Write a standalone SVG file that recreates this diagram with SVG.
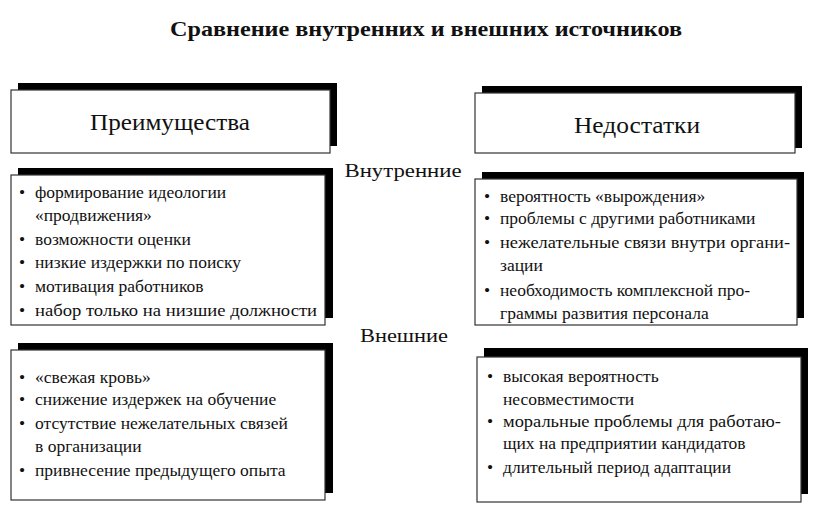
<svg xmlns="http://www.w3.org/2000/svg" width="827" height="528" viewBox="0 0 827 528" font-family="'Liberation Serif', serif">
<style>
text{font-family:'Liberation Serif', serif;fill:#111}
.sh{fill:#000}
.bx{fill:#fff;stroke:#333;stroke-width:1.2}
.h{font-size:23px;text-anchor:middle}
.t{font-size:17.5px}
.lb{font-size:19px}
</style>
<rect width="827" height="528" fill="#fff"/>
<text x="426" y="36" text-anchor="middle" font-weight="bold" font-size="21" textLength="512" lengthAdjust="spacingAndGlyphs">Сравнение внутренних и внешних источников</text>
<g id="adv-head"><rect class="sh" x="18" y="83" width="319" height="63"/><rect class="bx" x="11" y="90" width="319" height="63"/><text class="h" x="170" y="130" textLength="160" lengthAdjust="spacingAndGlyphs">Преимущества</text></g>
<g id="dis-head"><rect class="sh" x="482" y="86" width="320" height="62"/><rect class="bx" x="475" y="93" width="320" height="60"/><text class="h" x="637" y="133" textLength="126" lengthAdjust="spacingAndGlyphs">Недостатки</text></g>
<g id="adv-int"><rect class="sh" x="18" y="168" width="315" height="150"/><rect class="bx" x="11" y="175" width="314" height="150"/>
<text class="t" x="19" y="198">•</text><text class="t" x="35" y="198">формирование идеологии</text><text class="t" x="35" y="221">«продвижения»</text><text class="t" x="19" y="245">•</text><text class="t" x="35" y="245">возможности оценки</text><text class="t" x="19" y="268">•</text><text class="t" x="35" y="268">низкие издержки по поиску</text><text class="t" x="19" y="292">•</text><text class="t" x="35" y="292">мотивация работников</text><text class="t" x="19" y="316">•</text><text class="t" x="35" y="316" textLength="282" lengthAdjust="spacingAndGlyphs">набор только на низшие должности</text></g>
<g id="dis-int"><rect class="sh" x="482" y="172" width="322" height="146"/><rect class="bx" x="475" y="179" width="322" height="146"/>
<text class="t" x="484" y="202">•</text><text class="t" x="500" y="202">вероятность «вырождения»</text><text class="t" x="484" y="224">•</text><text class="t" x="500" y="224">проблемы с другими работниками</text><text class="t" x="484" y="248">•</text><text class="t" x="500" y="248" textLength="290" lengthAdjust="spacingAndGlyphs">нежелательные связи внутри органи-</text><text class="t" x="500" y="271">зации</text><text class="t" x="484" y="296">•</text><text class="t" x="500" y="296">необходимость комплексной про-</text><text class="t" x="500" y="319">граммы развития персонала</text></g>
<g id="adv-ext"><rect class="sh" x="18" y="343" width="315" height="150"/><rect class="bx" x="11" y="350" width="314" height="150"/>
<text class="t" x="19" y="383">•</text><text class="t" x="35" y="383">«свежая кровь»</text><text class="t" x="19" y="405">•</text><text class="t" x="35" y="405">снижение издержек на обучение</text><text class="t" x="19" y="429">•</text><text class="t" x="35" y="429">отсутствие нежелательных связей</text><text class="t" x="35" y="452">в организации</text><text class="t" x="19" y="476">•</text><text class="t" x="35" y="476">привнесение предыдущего опыта</text></g>
<g id="dis-ext"><rect class="sh" x="484" y="348" width="324" height="146"/><rect class="bx" x="477" y="357" width="324" height="145"/>
<text class="t" x="487" y="382">•</text><text class="t" x="503" y="382">высокая вероятность</text><text class="t" x="503" y="405">несовместимости</text><text class="t" x="487" y="427">•</text><text class="t" x="503" y="427" textLength="278" lengthAdjust="spacingAndGlyphs">моральные проблемы для работаю-</text><text class="t" x="503" y="449">щих на предприятии кандидатов</text><text class="t" x="487" y="473">•</text><text class="t" x="503" y="473">длительный период адаптации</text></g>
<g id="connectors"></g>
<text class="lb" x="403" y="177" text-anchor="middle" textLength="117" lengthAdjust="spacingAndGlyphs">Внутренние</text>
<text class="lb" x="404" y="342" text-anchor="middle" textLength="88" lengthAdjust="spacingAndGlyphs">Внешние</text>
</svg>
